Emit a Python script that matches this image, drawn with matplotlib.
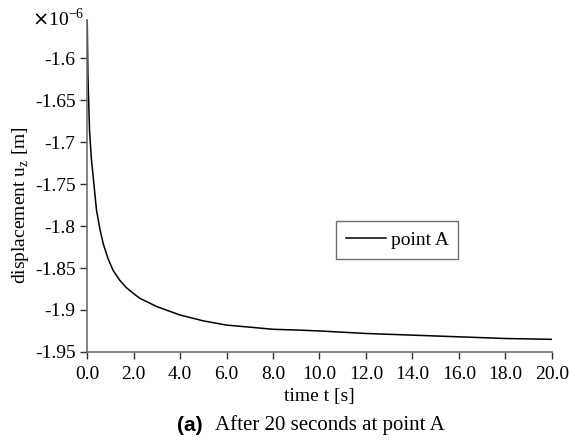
import matplotlib.pyplot as plt
import numpy as np
from matplotlib.ticker import FormatStrFormatter

# time [s] and displacement u_z at point A [x 1e-6 m]
t = [0.0, 0.03, 0.1, 0.18, 0.26, 0.4, 0.55, 0.69, 0.9, 1.12, 1.4, 1.69, 2.0,
     2.26, 3.0, 4.0, 5.0, 6.0, 8.0, 9.12, 10.0, 12.0, 14.0, 16.0, 18.0, 20.0]
uz = [-1.554, -1.62, -1.686, -1.72, -1.742, -1.781, -1.804, -1.821, -1.839,
      -1.853, -1.8645, -1.8735, -1.8805, -1.886, -1.896, -1.906, -1.913, -1.918,
      -1.923, -1.924, -1.925, -1.928, -1.930, -1.932, -1.934, -1.935]

xticks = np.arange(0, 21, 2)
yticks = [-1.6, -1.65, -1.7, -1.75, -1.8, -1.85, -1.9, -1.95]
ylabels = ['-1.6', '-1.65', '-1.7', '-1.75', '-1.8', '-1.85', '-1.9', '-1.95']

plt.rcParams['font.family'] = 'Liberation Serif'
plt.rcParams['axes.unicode_minus'] = False

fig = plt.figure(figsize=(5.7, 4.41), dpi=100)
ax = fig.add_axes([0.153, 0.202, 0.815, 0.753])

ax.plot(t, uz, color='black', lw=1.1, label='point A')

ax.set_xlim(0, 20)
ax.set_ylim(-1.95, -1.554)
ax.set_xticks(xticks)
ax.set_yticks(yticks)
ax.set_yticklabels(ylabels)
ax.xaxis.set_major_formatter(FormatStrFormatter('%.1f'))

for s in ['top', 'right']:
    ax.spines[s].set_visible(False)
for s in ['left', 'bottom']:
    ax.spines[s].set_color('#707070')
    ax.spines[s].set_linewidth(1.2)
ax.tick_params(direction='out', length=5, width=1, color='#303030',
               labelsize=14)
ax.tick_params(axis='x', pad=5)
ax.tick_params(axis='y', pad=3.5)

ax.set_xlabel('time t [s]', fontsize=14, labelpad=4)
ax.set_ylabel('displacement u$_\\mathregular{z}$ [m]', fontsize=14)
ax.yaxis.set_label_coords(-0.121, 0.443)

fig.text(0.147, 0.957, '$\\times$10$^{\\mathregular{-6}}$', ha='right', va='center',
         fontsize=14)

leg = ax.legend(loc='center', bbox_to_anchor=(0.6675, 0.337), fontsize=14,
                fancybox=False, framealpha=1, edgecolor='#707070',
                handlelength=2.06, handletextpad=0.25, borderpad=0.5)
leg.get_frame().set_linewidth(1.0)

fig.text(0.3105, 0.036, '(a)', family='Liberation Sans', weight='bold',
         fontsize=15, ha='left', va='center')
fig.text(0.377, 0.036, 'After 20 seconds at point A', fontsize=15,
         ha='left', va='center')

fig.savefig('out.png', dpi=100)
